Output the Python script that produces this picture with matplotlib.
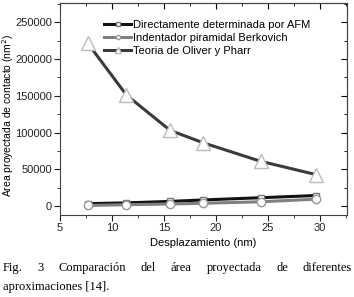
import numpy as np
import matplotlib
matplotlib.use("Agg")
import matplotlib.pyplot as plt
from matplotlib.lines import Line2D
from matplotlib.ticker import MultipleLocator

plt.rcParams['font.family'] = ['Liberation Sans', 'DejaVu Sans']

# datos
desplazamiento = [7.7, 11.4, 15.6, 18.8, 24.3, 29.6]
area_afm = [3500, 4500, 6500, 8500, 11500, 14500]
area_berkovich = [1000, 2000, 3000, 4000, 6000, 9500]
area_oliver = [221000, 151000, 103000, 86000, 61000, 43000]

etiquetas = ["Directamente determinada por AFM",
             "Indentador piramidal Berkovich",
             "Teoria de Oliver y Pharr"]
caption_1 = "Fig. 3 Comparación del área proyectada de diferentes"
caption_2 = "aproximaciones [14]."

fig = plt.figure(figsize=(3.54, 2.97), dpi=100)
ax = fig.add_axes([0.169, 0.276, 0.811, 0.714])

ax.plot(desplazamiento, area_afm, color='#111111', lw=2.2, marker='s',
        ms=5, mfc='white', mec='#777777', mew=1.0, zorder=3)
ax.plot(desplazamiento, area_berkovich, color='#808080', lw=2.2, marker='o',
        ms=6, mfc='white', mec='#999999', mew=1.0, zorder=4)
ax.plot(desplazamiento, area_oliver, color='#3a3a3a', lw=2.2, marker='^',
        ms=10, mfc='white', mec='#bbbbbb', mew=1.0, zorder=3)

ax.set_xlim(5, 32.6)
ax.set_ylim(-12000, 276000)
ax.xaxis.set_major_locator(MultipleLocator(5))
ax.xaxis.set_minor_locator(MultipleLocator(2.5))
ax.yaxis.set_major_locator(MultipleLocator(50000))
ax.yaxis.set_minor_locator(MultipleLocator(25000))
ax.tick_params(which='both', labelsize=8, colors='#222222', pad=1.5)
ax.tick_params(which='major', length=4)
ax.tick_params(which='minor', length=2)
ax.tick_params(which='both', direction='out', left=True, bottom=True)
# ticks interiores arriba y a la derecha (estilo Origin)
ax_t = ax.secondary_xaxis('top')
ax_t.xaxis.set_major_locator(MultipleLocator(5))
ax_t.xaxis.set_minor_locator(MultipleLocator(2.5))
ax_t.tick_params(which='both', direction='in', labeltop=False)
ax_t.tick_params(which='major', length=4)
ax_t.tick_params(which='minor', length=2)
ax_r = ax.secondary_yaxis('right')
ax_r.yaxis.set_major_locator(MultipleLocator(50000))
ax_r.yaxis.set_minor_locator(MultipleLocator(25000))
ax_r.tick_params(which='both', direction='in', labelright=False)
ax_r.tick_params(which='major', length=4)
ax_r.tick_params(which='minor', length=2)
for a in (ax, ax_t, ax_r):
    for sp in a.spines.values():
        sp.set_color('#444444')

ax.set_xlabel("Desplazamiento (nm)", fontsize=8, labelpad=4)
ax.set_ylabel("Area proyectada de contacto (nm$^2$)", fontsize=7.5)
ax.yaxis.set_label_coords(-0.152, 0.47)

handles = [
    Line2D([], [], color='#111111', lw=2.2, marker='s', ms=3, mfc='white', mec='#777777'),
    Line2D([], [], color='#808080', lw=2.2, marker='o', ms=3, mfc='white', mec='#999999'),
    Line2D([], [], color='#3a3a3a', lw=2.2, marker='^', ms=4, mfc='white', mec='#bbbbbb'),
]
ax.legend(handles, etiquetas, loc='upper left', bbox_to_anchor=(0.14, 0.94),
          frameon=False, fontsize=8, handlelength=2.4, handletextpad=0.2,
          labelspacing=0.25, borderaxespad=0)

# pie de figura justificado
fig.canvas.draw()
renderer = fig.canvas.get_renderer()
W = fig.bbox.width
palabras = caption_1.split()
textos = [fig.text(0, 0, p, fontsize=9, family='Liberation Serif') for p in palabras]
anchos = [t.get_window_extent(renderer).width for t in textos]
x0, x1 = 3, 352
hueco = (x1 - x0 - sum(anchos)) / (len(palabras) - 1)
x = x0
for t, w in zip(textos, anchos):
    t.set_position((x / W, 1 - 271 / 297))
    x += w + hueco
fig.text(3 / W, 1 - 290 / 297, caption_2, fontsize=9, family='Liberation Serif')

fig.savefig("out.png", dpi=100)
